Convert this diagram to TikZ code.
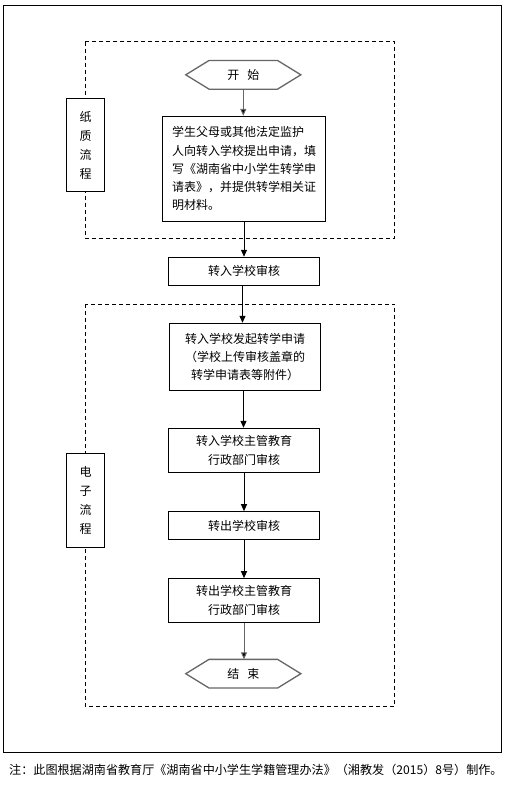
\documentclass[tikz,border=0pt]{standalone}
\usepackage{fontspec}
\setmainfont{Noto Sans CJK SC}
\usetikzlibrary{arrows.meta,calc}
\begin{document}
\begin{tikzpicture}[x=1pt,y=-1pt,
  box/.style={draw, line width=1pt, fill=white, inner sep=0pt, align=center, minimum width=151.4pt, font=\fontsize{12}{18.3}\selectfont},
  lab/.style={draw, line width=1pt, fill=white, minimum width=38.4pt, inner sep=0pt, align=center, font=\fontsize{12}{19}\selectfont},
  hexnode/.style={minimum width=114.7pt, minimum height=28.3pt, inner sep=0pt, font=\fontsize{12}{14}\selectfont},
  hexline/.style={draw=black!60, line width=1.3pt},
  arr/.style={-{Triangle[width=6pt,length=7pt]}, line width=1pt},
  grayarr/.style={arr, draw=black!60, -{Triangle[width=6pt,length=7pt,fill=black]}},
  dbox/.style={draw, line width=1pt, dash pattern=on 4pt off 3pt}
]
\useasboundingbox (0,0) rectangle (505,785);
\fill[white] (0,0) rectangle (505,785);
\draw[line width=1pt] (3.3,5) rectangle (501.7,752);

% dashed groups
\draw[dbox] (85.3,41.7) rectangle (394.7,238.3);
\draw[dbox] (85.3,304) rectangle (394.7,706.3);

% side labels
\node[lab, minimum height=93.4pt] (paper) at (85.5,145) {纸\\质\\流\\程};
\node[lab, minimum height=94pt] (elec) at (85.5,500.3) {电\\子\\流\\程};

% start / end hexagons
\node[hexnode] (start) at (243.3,74.8) {开\hspace{8pt}始};
\draw[hexline] (start.west) -- ($(start.north west)+(23.3,0)$) -- ($(start.north east)+(-23.3,0)$) -- (start.east) -- ($(start.south east)+(-23.3,0)$) -- ($(start.south west)+(23.3,0)$) -- cycle;

\node[hexnode] (end) at (243.3,673.7) {结\hspace{8pt}束};
\draw[hexline] (end.west) -- ($(end.north west)+(23.3,0)$) -- ($(end.north east)+(-23.3,0)$) -- (end.east) -- ($(end.south east)+(-23.3,0)$) -- ($(end.south west)+(23.3,0)$) -- cycle;

% process boxes
\node[box, minimum width=163.4pt, minimum height=105pt, text width=144pt, align=left] (b1) at (244,168.8)
  {学生父母或其他法定监护\\人向转入学校提出申请，填\\写《湖南省中小学生转学申\\请表》，并提供转学相关证\\明材料。};
\node[box, minimum height=28pt] (b2) at (244,271.3) {转入学校审核};
\node[box, minimum height=67pt] (b3) at (245,356.8) {转入学校发起转学申请\\（学校上传审核盖章的\\转学申请表等附件）};
\node[box, minimum height=44pt] (b4) at (244,450.3) {转入学校主管教育\\行政部门审核};
\node[box, minimum height=27.6pt] (b5) at (244,525.5) {转出学校审核};
\node[box, minimum height=43.6pt] (b6) at (244,600.5) {转出学校主管教育\\行政部门审核};

% connectors
\draw[grayarr] (start.south) -- (start.south |- b1.north);
\draw[arr] (b1.south) -- (b1.south |- b2.north);
\draw[arr] ([xshift=-1.5pt]b2.south) -- ([xshift=-1.5pt]b2.south |- b3.north);
\draw[arr] ([xshift=-1.5pt]b3.south) -- ([xshift=-1.5pt]b3.south |- b4.north);
\draw[arr] (b4.south) -- (b4.south |- b5.north);
\draw[arr] (b5.south) -- (b5.south |- b6.north);
\draw[grayarr] (b6.south) -- (b6.south |- end.north);

% note
\node[anchor=west, inner sep=0pt, font=\fontsize{12.1}{14}\selectfont] (note) at (9,770)
  {注：此图根据湖南省教育厅《湖南省中小学生学籍管理办法》（湘教发（2015）8号）制作。};
\end{tikzpicture}
\end{document}
